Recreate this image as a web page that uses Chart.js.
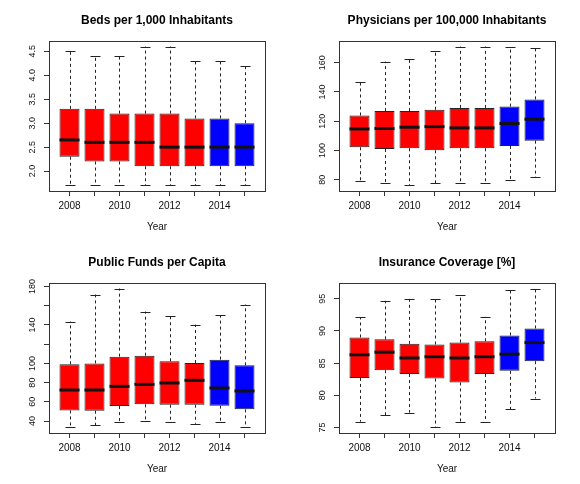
<!DOCTYPE html>
<html>
<head>
<meta charset="utf-8">
<script src="https://cdn.jsdelivr.net/npm/chart.js@4.4.1/dist/chart.umd.min.js"></script>
<style>
  html, body { margin: 0; padding: 0; background: #fff; }
  #pagina { position: relative; width: 580px; height: 484px; }
  .painel { position: absolute; width: 290px; height: 242px; }
</style>
</head>
<body>
<div id="pagina">
  <div class="painel" style="left:0;top:0"><canvas id="grafBeds" width="290" height="242"></canvas></div>
  <div class="painel" style="left:290px;top:0"><canvas id="grafPhysicians" width="290" height="242"></canvas></div>
  <div class="painel" style="left:0;top:242px"><canvas id="grafFunds" width="290" height="242"></canvas></div>
  <div class="painel" style="left:290px;top:242px"><canvas id="grafInsurance" width="290" height="242"></canvas></div>
</div>
<script>
const years = ["2008", "2009", "2010", "2011", "2012", "2013", "2014", "2015"];
const yearLabels = ["2008", "", "2010", "", "2012", "", "2014", ""];

// Beds per 1,000 Inhabitants
const bedsMin = [1.7, 1.7, 1.7, 1.7, 1.7, 1.7, 1.7, 1.7];
const bedsQ1 = [2.3, 2.2, 2.2, 2.1, 2.1, 2.1, 2.1, 2.1];
const bedsMedian = [2.65, 2.6, 2.6, 2.6, 2.5, 2.5, 2.5, 2.5];
const bedsQ3 = [3.3, 3.3, 3.2, 3.2, 3.2, 3.1, 3.1, 3.0];
const bedsMax = [4.5, 4.4, 4.4, 4.6, 4.6, 4.3, 4.3, 4.2];
const bedsTicks = [2.0, 2.5, 3.0, 3.5, 4.0, 4.5];
const bedsTickLabels = ["2.0", "2.5", "3.0", "3.5", "4.0", "4.5"];

// Physicians per 100,000 Inhabitants
const physMin = [78.9, 78, 76.1, 77.7, 78, 78, 80, 81.6];
const physQ1 = [102.2, 101, 101.5, 100.1, 101.5, 101.5, 103.1, 106.7];
const physMedian = [114.7, 115, 115.9, 116.3, 115.4, 115.4, 118.4, 121.4];
const physQ3 = [123.9, 126.9, 127, 127.8, 129.1, 129.1, 130, 134.9];
const physMax = [147, 160.7, 162.7, 168.2, 171, 171, 171, 170.3];
const physTicks = [80, 100, 120, 140, 160];
const physTickLabels = ["80", "100", "120", "140", "160"];

// Public Funds per Capita
const fundsMin = [33.4, 35.8, 38.6, 40.3, 38.6, 37.2, 38.6, 33.4];
const fundsQ1 = [51.1, 50.8, 55.6, 57.4, 57, 57, 56, 52.2];
const fundsMedian = [72.3, 72.3, 76.1, 78.2, 79.6, 82.4, 74.4, 71.3];
const fundsQ3 = [99, 100, 107, 108, 102.2, 100.4, 103.9, 98];
const fundsMax = [143.5, 171.6, 177.8, 153.9, 149.4, 140.3, 150, 161.2];
const fundsTicks = [40, 60, 80, 100, 120, 140, 160, 180];
const fundsTickLabels = ["40", "60", "80", "100", "", "140", "", "180"];

// Insurance Coverage [%]
const insMin = [75.9, 76.9, 77.3, 75, 75.8, 75.8, 77.8, 79.5];
const insQ1 = [82.7, 83.9, 83.3, 82.6, 82.0, 83.3, 83.8, 85.3];
const insMedian = [86.3, 86.7, 85.8, 86.0, 85.8, 86.0, 86.4, 88.2];
const insQ3 = [89.0, 88.7, 88.0, 87.9, 88.2, 88.4, 89.3, 90.4];
const insMax = [92.1, 94.7, 95, 95, 95.6, 92.2, 96.3, 96.6];
const insTicks = [75, 80, 85, 90, 95];
const insTickLabels = ["75", "80", "85", "90", "95"];

const corVermelho = "#ff0000";
const corAzul = "#0000ff";
const coresCaixas = years.map((_, i) => (i < 6 ? corVermelho : corAzul));
const fonte = "'Liberation Sans', Arial, Helvetica, sans-serif";
const corLinha = "#333";

function criarPluginBoxplot(painel) {
  return {
    id: "boxplotExtras",
    afterDatasetsDraw(chart) {
      const { ctx, scales } = chart;
      const x = scales.x;
      const y = scales.y;
      const meiaCaixa = x.getPixelForValue(1.4) - x.getPixelForValue(1);
      const meioStaple = meiaCaixa / 2;

      ctx.save();
      ctx.strokeStyle = "#222";
      ctx.lineWidth = 1;

      painel.min.forEach((_, i) => {
        const px = Math.round(x.getPixelForValue(i + 1)) + 0.5;
        const yMin = y.getPixelForValue(painel.min[i]);
        const yQ1 = y.getPixelForValue(painel.q1[i]);
        const yQ3 = y.getPixelForValue(painel.q3[i]);
        const yMax = y.getPixelForValue(painel.max[i]);

        // bigodes tracejados
        ctx.setLineDash([3, 3]);
        ctx.beginPath();
        ctx.moveTo(px, yQ3);
        ctx.lineTo(px, yMax);
        ctx.moveTo(px, yQ1);
        ctx.lineTo(px, yMin);
        ctx.stroke();

        ctx.setLineDash([]);
        ctx.beginPath();
        ctx.moveTo(px - meioStaple, Math.round(yMax) + 0.5);
        ctx.lineTo(px + meioStaple, Math.round(yMax) + 0.5);
        ctx.moveTo(px - meioStaple, Math.round(yMin) + 0.5);
        ctx.lineTo(px + meioStaple, Math.round(yMin) + 0.5);
        ctx.stroke();
      });

      // medianas
      ctx.strokeStyle = "#111";
      ctx.lineWidth = 3;
      painel.median.forEach((m, i) => {
        const px = x.getPixelForValue(i + 1);
        const py = y.getPixelForValue(m);
        ctx.beginPath();
        ctx.moveTo(px - meiaCaixa, py);
        ctx.lineTo(px + meiaCaixa, py);
        ctx.stroke();
      });
      ctx.restore();
    },
    afterDraw(chart) {
      const { ctx, chartArea, scales } = chart;
      const centro = (chartArea.left + chartArea.right) / 2;

      ctx.save();
      ctx.strokeStyle = corLinha;
      ctx.lineWidth = 1;
      ctx.strokeRect(
        Math.round(chartArea.left) + 0.5,
        Math.round(chartArea.top) + 0.5,
        Math.round(chartArea.right - chartArea.left),
        Math.round(chartArea.bottom - chartArea.top)
      );

      ctx.fillStyle = "#000";
      ctx.textAlign = "center";
      ctx.textBaseline = "middle";
      ctx.font = `bold 12px ${fonte}`;
      ctx.fillText(painel.titulo, centro, 21);

      ctx.font = `10px ${fonte}`;
      ctx.fillStyle = "#111";
      ctx.fillText("Year", centro, 227);

      ctx.font = `9px ${fonte}`;
      painel.ticks.forEach((v, i) => {
        const texto = painel.tickLabels[i];
        if (!texto) return;
        ctx.save();
        ctx.translate(chartArea.left - 16, scales.y.getPixelForValue(v));
        ctx.rotate(-Math.PI / 2);
        ctx.fillText(texto, 0, 0);
        ctx.restore();
      });
      ctx.restore();
    }
  };
}

function limitesR(minimos, maximos) {
  const lo = Math.min(...minimos);
  const hi = Math.max(...maximos);
  const ext = (hi - lo) * 0.04;
  return { min: lo - ext, max: hi + ext };
}

function criarBoxplot(id, painel) {
  const lim = limitesR(painel.min, painel.max);

  return new Chart(document.getElementById(id), {
    type: "bar",
    data: {
      datasets: [
        {
          data: painel.q1.map((q1, i) => ({ x: i + 1, y: [q1, painel.q3[i]] })),
          backgroundColor: coresCaixas,
          borderColor: "#222",
          borderWidth: 1,
          borderSkipped: false,
          barPercentage: 0.8,
          categoryPercentage: 1.0
        }
      ]
    },
    options: {
      responsive: false,
      animation: false,
      layout: { padding: { left: 0, right: 25, top: 41, bottom: 0 } },
      plugins: {
        legend: { display: false },
        tooltip: { enabled: false },
        title: { display: false }
      },
      scales: {
        x: {
          type: "linear",
          min: 0.18,
          max: 8.82,
          offset: false,
          afterBuildTicks: scale => {
            scale.ticks = years.map((_, i) => ({ value: i + 1 }));
          },
          afterFit: scale => { scale.height = 51; },
          grid: { display: true, drawOnChartArea: false, drawTicks: true, tickLength: 5, color: corLinha, offset: false },
          border: { display: true, color: corLinha },
          ticks: {
            autoSkip: false,
            maxRotation: 0,
            padding: 4,
            color: "#111",
            font: { family: fonte, size: 10 },
            callback: (valor, indice) => yearLabels[indice] ?? ""
          }
        },
        y: {
          type: "linear",
          min: lim.min,
          max: lim.max,
          afterBuildTicks: scale => {
            scale.ticks = painel.ticks.map(v => ({ value: v }));
          },
          afterFit: scale => { scale.width = 49; },
          grid: { display: true, drawOnChartArea: false, drawTicks: true, tickLength: 5, color: corLinha },
          border: { display: true, color: corLinha },
          ticks: { display: false }
        }
      }
    },
    plugins: [criarPluginBoxplot(painel)]
  });
}

criarBoxplot("grafBeds", {
  titulo: "Beds per 1,000 Inhabitants",
  min: bedsMin, q1: bedsQ1, median: bedsMedian, q3: bedsQ3, max: bedsMax,
  ticks: bedsTicks, tickLabels: bedsTickLabels
});

criarBoxplot("grafPhysicians", {
  titulo: "Physicians per 100,000 Inhabitants",
  min: physMin, q1: physQ1, median: physMedian, q3: physQ3, max: physMax,
  ticks: physTicks, tickLabels: physTickLabels
});

criarBoxplot("grafFunds", {
  titulo: "Public Funds per Capita",
  min: fundsMin, q1: fundsQ1, median: fundsMedian, q3: fundsQ3, max: fundsMax,
  ticks: fundsTicks, tickLabels: fundsTickLabels
});

criarBoxplot("grafInsurance", {
  titulo: "Insurance Coverage [%]",
  min: insMin, q1: insQ1, median: insMedian, q3: insQ3, max: insMax,
  ticks: insTicks, tickLabels: insTickLabels
});
</script>
</body>
</html>
